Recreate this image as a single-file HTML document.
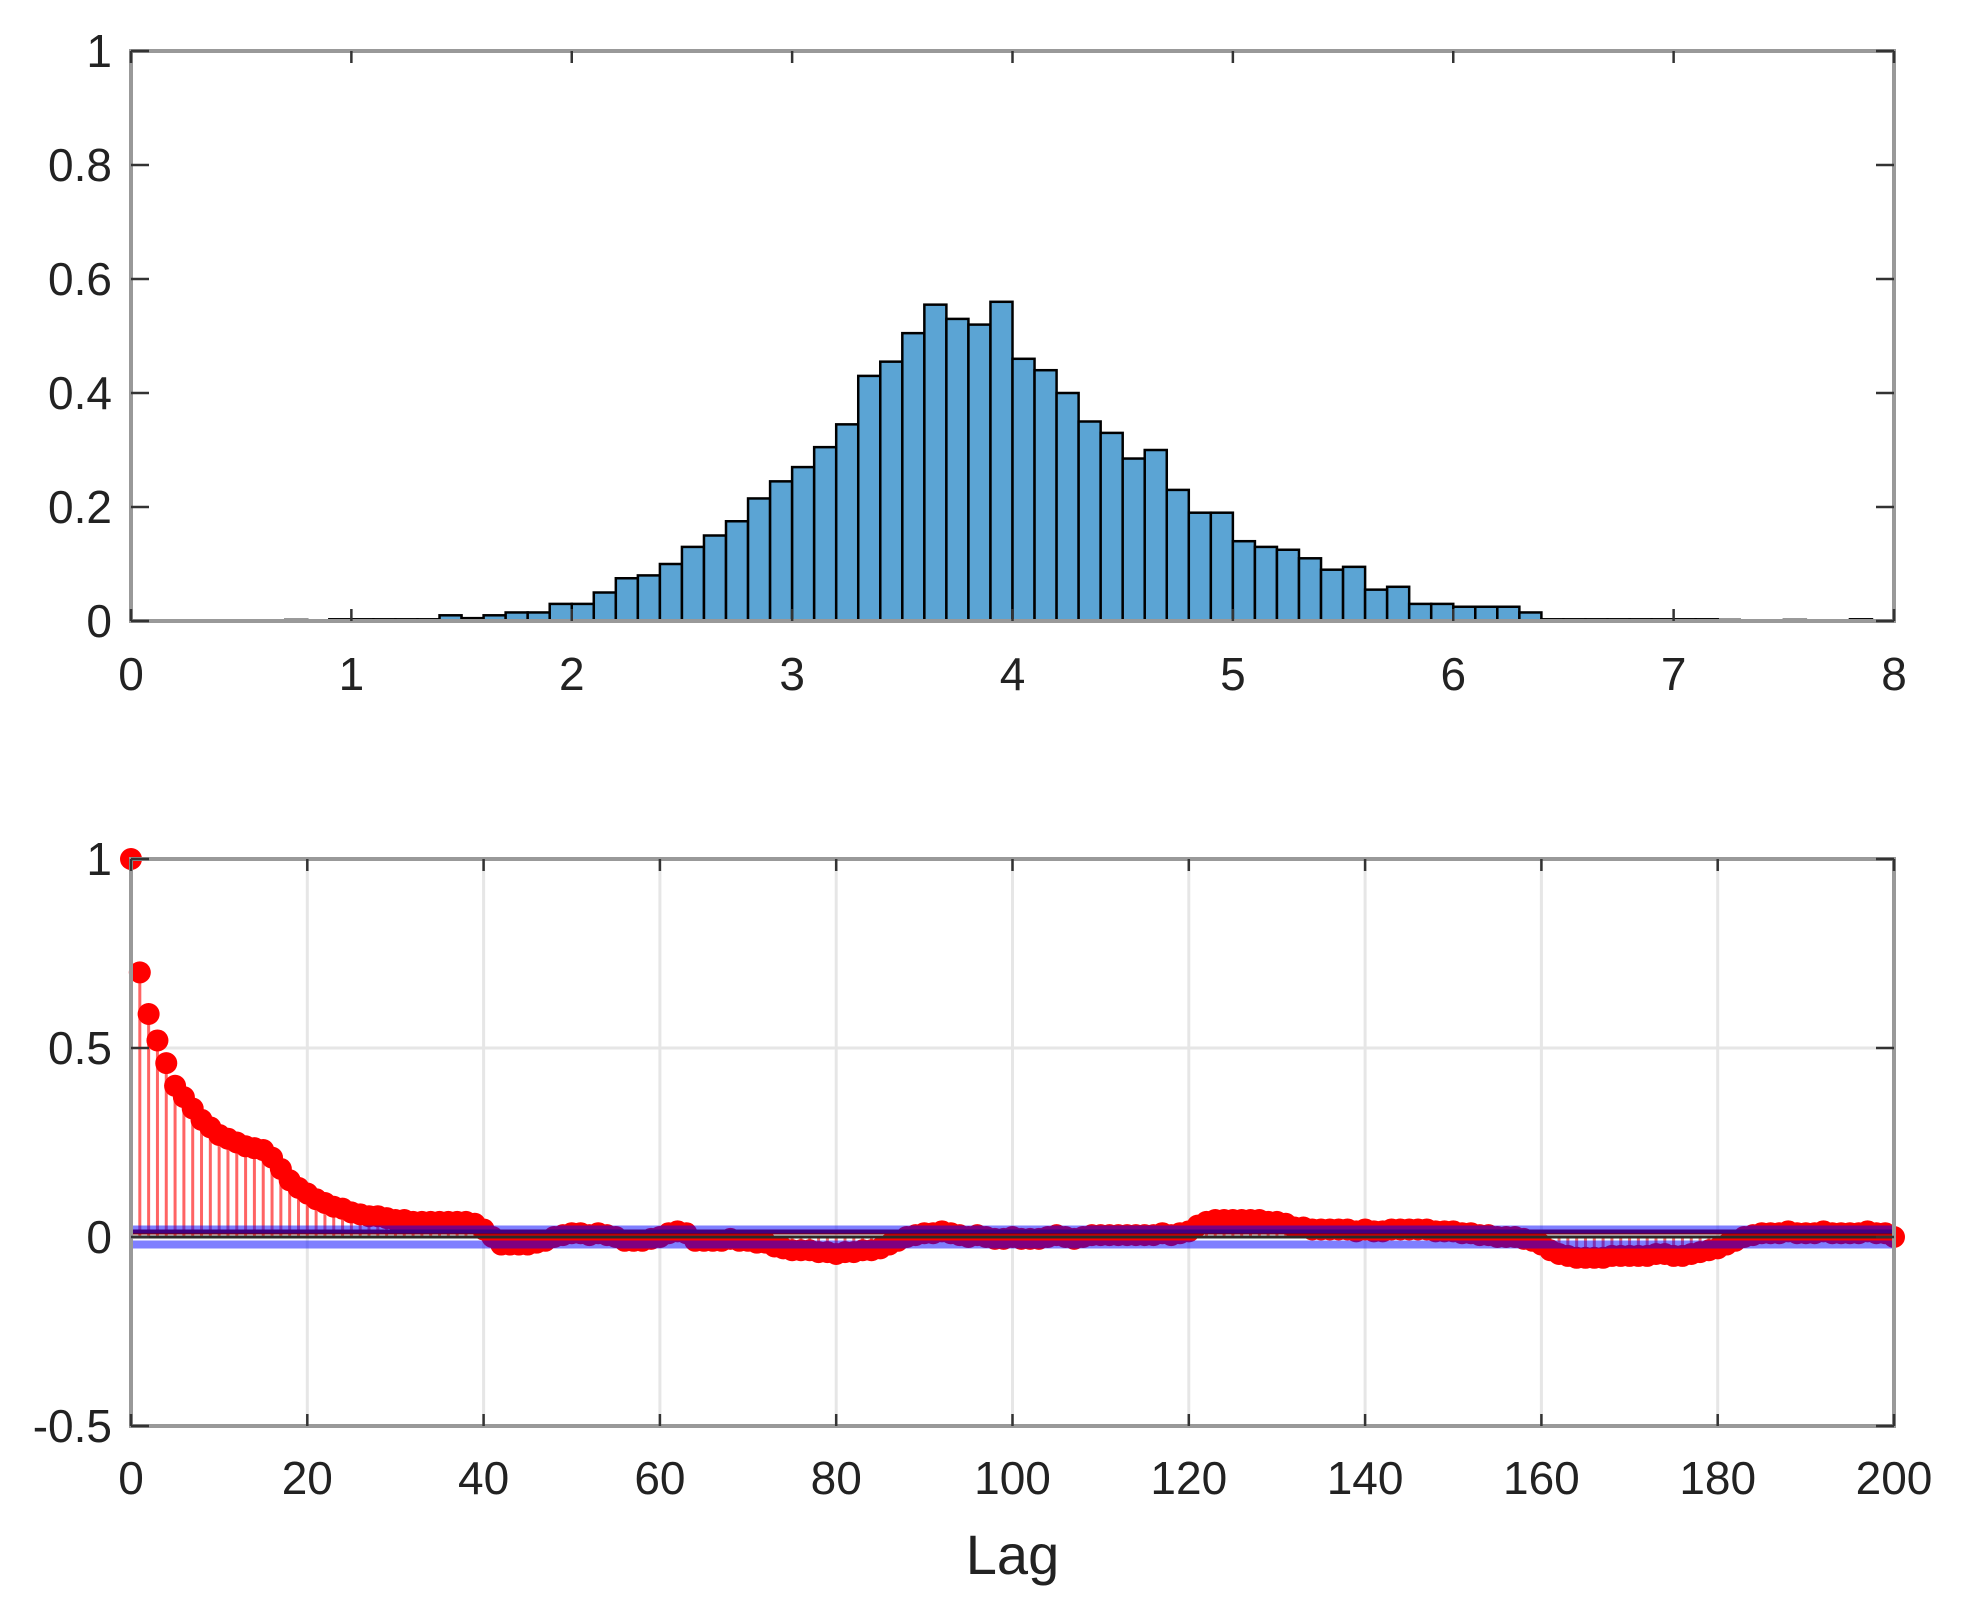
<!DOCTYPE html>
<html><head><meta charset="utf-8">
<style>
html,body{margin:0;padding:0;background:#fff;}
svg{display:block;font-family:"Liberation Sans",sans-serif;}
</style></head>
<body>
<svg id="chart" width="1965" height="1614" viewBox="0 0 1965 1614" xmlns="http://www.w3.org/2000/svg">
<g id="topPanel"></g>
<g id="botPanel"></g>
</svg>
<script>
// Histogram data (bin width 0.1)
const histStart = 0.7;
const histBinWidth = 0.1;
const histValues = [0.002,0.0,0.003,0.003,0.003,0.003,0.003,0.01,0.005,0.01,0.015,0.015,
0.03,0.03,0.05,0.075,0.08,0.1,0.13,0.15,0.175,0.215,0.245,0.27,0.305,0.345,0.43,0.455,0.505,0.555,0.53,0.52,0.56,
0.46,0.44,0.4,0.35,0.33,0.285,0.3,0.23,0.19,0.19,0.14,0.13,0.125,0.11,0.09,0.095,0.055,0.06,0.03,0.03,0.025,0.025,0.025,0.015,
0.003,0.003,0.003,0.003,0.003,0.003,0.003,0.003,0.002,0.0,0.0,0.002,0.0,0.0,0.003];
const histXTicks = [0,1,2,3,4,5,6,7,8];
const histYTicks = [0,0.2,0.4,0.6,0.8,1];
const histYLabels = ["0","0.2","0.4","0.6","0.8","1"];

// ACF data, lags 0..200
const acfValues = [1,0.70,0.59,0.52,0.46,0.40,0.37,0.34,0.31,0.29,0.27,0.26,0.25,0.24,0.235,0.23,0.21,0.18,0.15,0.13,
0.115,0.10,0.09,0.08,0.075,0.065,0.06,0.055,0.055,0.05,0.045,0.045,0.04,0.04,0.04,0.04,0.04,0.04,0.04,0.035,
0.02,0.0,-0.02,-0.02,-0.02,-0.02,-0.015,-0.01,0.0,0.005,0.01,0.01,0.005,0.01,0.005,0.0,-0.01,-0.01,-0.01,-0.005,
0.0,0.01,0.015,0.01,-0.01,-0.01,-0.01,-0.01,-0.005,-0.01,-0.01,-0.015,-0.015,-0.025,-0.03,-0.035,-0.035,-0.035,-0.04,-0.04,
-0.045,-0.04,-0.04,-0.035,-0.035,-0.03,-0.02,-0.01,0.0,0.005,0.01,0.01,0.015,0.01,0.005,0.0,0.005,0.0,-0.005,-0.005,
0.0,-0.005,-0.005,-0.005,0.0,0.005,0.0,-0.005,0.0,0.005,0.005,0.005,0.005,0.005,0.005,0.005,0.005,0.01,0.005,0.01,
0.015,0.03,0.04,0.045,0.045,0.045,0.045,0.045,0.045,0.04,0.04,0.035,0.025,0.025,0.02,0.02,0.02,0.02,0.02,0.015,
0.02,0.015,0.015,0.02,0.02,0.02,0.02,0.02,0.015,0.015,0.015,0.01,0.01,0.005,0.005,0.0,0.0,0.0,-0.005,-0.01,
-0.02,-0.035,-0.045,-0.05,-0.055,-0.055,-0.055,-0.055,-0.05,-0.05,-0.05,-0.05,-0.05,-0.045,-0.045,-0.05,-0.05,-0.045,-0.04,-0.035,
-0.03,-0.02,-0.01,0.0,0.005,0.01,0.01,0.01,0.015,0.01,0.01,0.01,0.015,0.01,0.01,0.01,0.01,0.015,0.01,0.01,0.0];
const acfBound = 0.02;
const acfXTicks = [0,20,40,60,80,100,120,140,160,180,200];
const acfYTicks = [-0.5,0,0.5,1];
const acfYLabels = ["-0.5","0","0.5","1"];

const NS="http://www.w3.org/2000/svg";
function mk(parent,tag,attrs,text){const e=document.createElementNS(NS,tag);for(const k in attrs)e.setAttribute(k,attrs[k]);if(text!==undefined)e.textContent=text;parent.appendChild(e);return e;}

// ---- Top histogram ----
const T={l:131,r:1894,t:51,b:621};
const hx=v=>T.l+(v-0)/8*(T.r-T.l);
const hy=v=>T.b-v*(T.b-T.t);
const topG=document.getElementById('topPanel');
histValues.forEach((v,i)=>{
  const x0=hx(histStart+i*histBinWidth), x1=hx(histStart+(i+1)*histBinWidth);
  const r=mk(topG,'rect',{x:x0,y:hy(v),width:x1-x0,height:hy(0)-hy(v),fill:'#5ba4d4',stroke:'#000','stroke-width':2.5});
  
  
});
const box1=mk(topG,'rect',{x:T.l,y:T.t,width:T.r-T.l,height:T.b-T.t,fill:'none',stroke:'#999','stroke-width':4});


histXTicks.forEach(v=>{
  const x=hx(v);
  mk(topG,'line',{x1:x,x2:x,y1:T.b,y2:T.b-12,stroke:'#333','stroke-width':2.5});
  mk(topG,'line',{x1:x,x2:x,y1:T.t,y2:T.t+12,stroke:'#333','stroke-width':2.5});
  const t=mk(topG,'text',{x:x,y:690,'font-size':46,'text-anchor':'middle',fill:'#222'},String(v));
  
  
});
histYTicks.forEach((v,i)=>{
  const y=hy(v);
  mk(topG,'line',{x1:T.l,x2:T.l+18,y1:y,y2:y,stroke:'#333','stroke-width':2.5});
  mk(topG,'line',{x1:T.r,x2:T.r-18,y1:y,y2:y,stroke:'#333','stroke-width':2.5});
  const t=mk(topG,'text',{x:112,y:y+16,'font-size':46,'text-anchor':'end',fill:'#222'},histYLabels[i]);
  
  
});

// ---- Bottom ACF ----
const B={l:131,r:1894,t:859,b:1426};
const ax=v=>B.l+v/200*(B.r-B.l);
const ay=v=>B.t+(1-v)/1.5*(B.b-B.t);
const botG=document.getElementById('botPanel');
acfXTicks.forEach(v=>{ if(v>0&&v<200) mk(botG,'line',{x1:ax(v),x2:ax(v),y1:B.t,y2:B.b,stroke:'#e6e6e6','stroke-width':3}); });
acfYTicks.forEach(v=>{ if(v>-0.5&&v<1) mk(botG,'line',{x1:B.l,x2:B.r,y1:ay(v),y2:ay(v),stroke:'#e6e6e6','stroke-width':3}); });
acfValues.forEach((v,i)=>{
  const s=mk(botG,'line',{x1:ax(i),x2:ax(i),y1:ay(0),y2:ay(v),stroke:'#ff3030','stroke-opacity':0.75,'stroke-width':3});
  
  
});
acfValues.forEach((v,i)=>{
  const c=mk(botG,'circle',{cx:ax(i),cy:ay(v),r:11,fill:'#ff0000'});
  
  
});
mk(botG,'line',{x1:B.l,x2:B.r,y1:ay(0)-5,y2:ay(0)-5,stroke:'#800000','stroke-width':5});
mk(botG,'line',{x1:B.l,x2:B.r,y1:ay(0),y2:ay(0),stroke:'#2a2a2a','stroke-width':3});
[acfBound,-acfBound].forEach(b=>{
  const l=mk(botG,'line',{x1:B.l,x2:B.r,y1:ay(b),y2:ay(b),stroke:'#0000ff','stroke-opacity':0.5,'stroke-width':8});
  
  
});
const box2=mk(botG,'rect',{x:B.l,y:B.t,width:B.r-B.l,height:B.b-B.t,fill:'none',stroke:'#999','stroke-width':4});


acfXTicks.forEach(v=>{
  const x=ax(v);
  mk(botG,'line',{x1:x,x2:x,y1:B.b,y2:B.b-12,stroke:'#333','stroke-width':2.5});
  mk(botG,'line',{x1:x,x2:x,y1:B.t,y2:B.t+12,stroke:'#333','stroke-width':2.5});
  const t=mk(botG,'text',{x:x,y:1494,'font-size':46,'text-anchor':'middle',fill:'#222'},String(v));
  
  
});
acfYTicks.forEach((v,i)=>{
  const y=ay(v);
  mk(botG,'line',{x1:B.l,x2:B.l+18,y1:y,y2:y,stroke:'#333','stroke-width':2.5});
  mk(botG,'line',{x1:B.r,x2:B.r-18,y1:y,y2:y,stroke:'#333','stroke-width':2.5});
  const t=mk(botG,'text',{x:112,y:y+16,'font-size':46,'text-anchor':'end',fill:'#222'},acfYLabels[i]);
  
  
});
const xl=mk(botG,'text',{x:(B.l+B.r)/2,y:1574,'font-size':56,'text-anchor':'middle',fill:'#222'},'Lag');


</script>
</body></html>
